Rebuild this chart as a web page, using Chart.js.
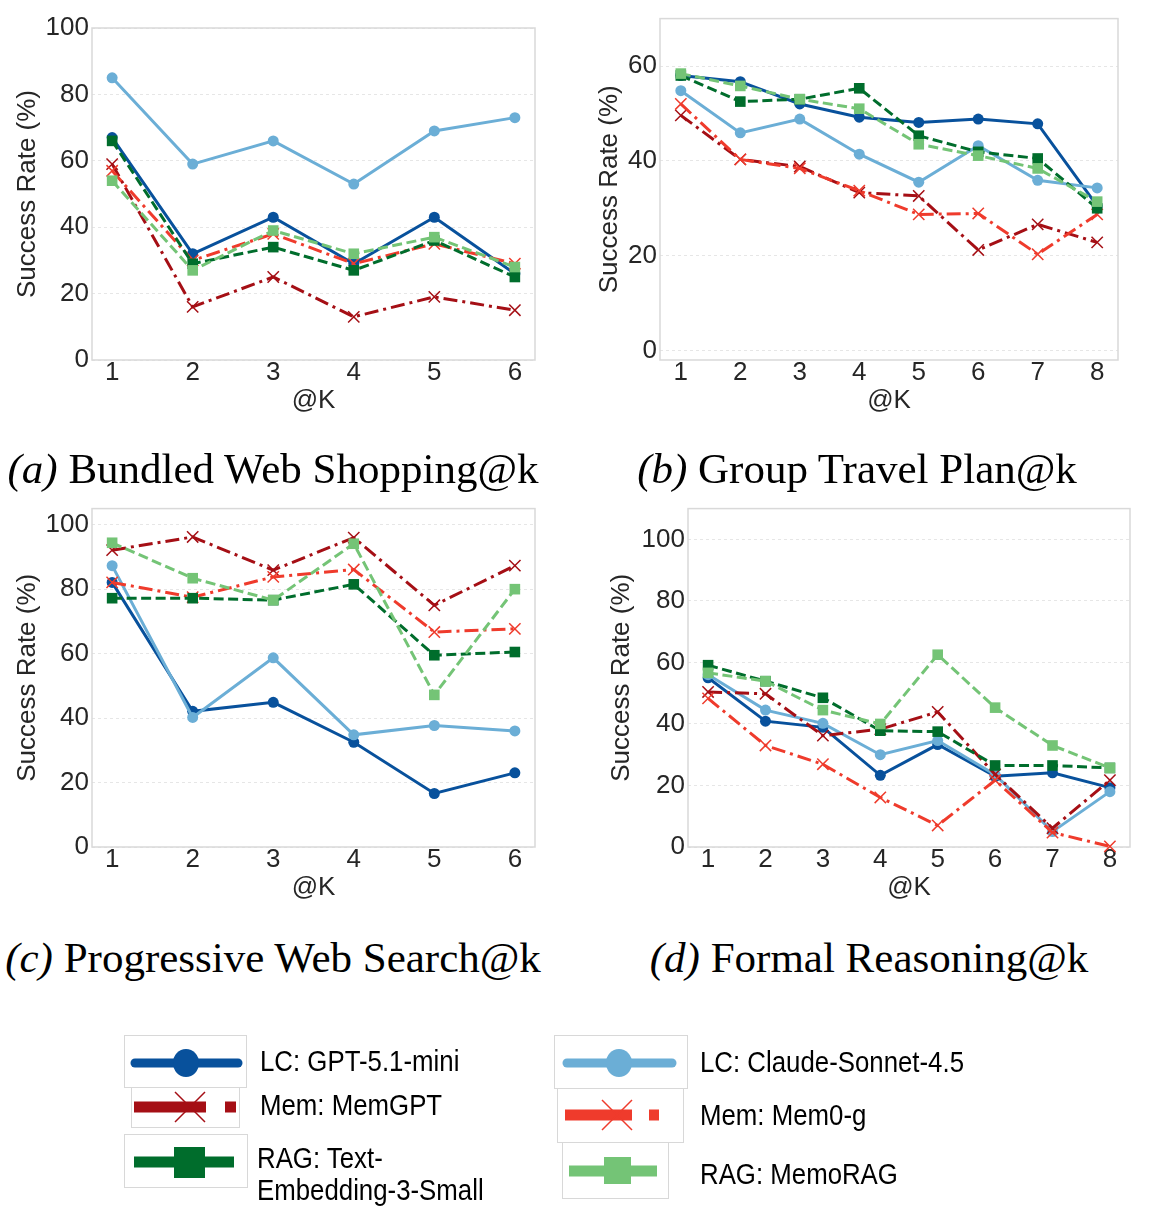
<!DOCTYPE html>
<html>
<head>
<meta charset="utf-8">
<script src="https://cdn.jsdelivr.net/npm/chart.js@4.4.1/dist/chart.umd.min.js"></script>
<style>
  body { margin: 0; background: #fff; width: 1156px; height: 1219px; position: relative; overflow: hidden; font-family: "Liberation Sans", Arial, sans-serif; }
  .panel { position: absolute; }
  .cap { position: absolute; font-family: "Liberation Serif", "Times New Roman", serif; font-size: 43px; white-space: nowrap; color: #000; transform: translate(-50%, -50%); line-height: 1; }
  .lg { position: absolute; font-family: "Liberation Sans", Arial, sans-serif; font-size: 29px; color: #000; white-space: nowrap; transform-origin: 0 50%; transform: translateY(-50%) scaleX(0.89); line-height: 1; }
  #legendArt { position: absolute; left: 0; top: 0; }
</style>
</head>
<body>

<div class="panel" style="left:0;top:0"><canvas id="chartA" width="545" height="420"></canvas></div>
<div class="panel" style="left:580px;top:0"><canvas id="chartB" width="548" height="420"></canvas></div>
<div class="panel" style="left:0;top:490px"><canvas id="chartC" width="545" height="417"></canvas></div>
<div class="panel" style="left:590px;top:490px"><canvas id="chartD" width="550" height="417"></canvas></div>

<div class="cap" style="left:273px;top:468px"><i>(a)</i> Bundled Web Shopping@k</div>
<div class="cap" style="left:857px;top:468px"><i>(b)</i> Group Travel Plan@k</div>
<div class="cap" style="left:273px;top:957px"><i>(c)</i> Progressive Web Search@k</div>
<div class="cap" style="left:869px;top:957px"><i>(d)</i> Formal Reasoning@k</div>

<canvas id="legendArt" width="1156" height="1219"></canvas>
<div id="legendText"></div>

<script>
// --- data ---
const kSix = [1, 2, 3, 4, 5, 6];
const kEight = [1, 2, 3, 4, 5, 6, 7, 8];
const yTicksFull = [0, 20, 40, 60, 80, 100];
const yTicksTravel = [0, 20, 40, 60];

const seriesNames = ["LC: GPT-5.1-mini", "LC: Claude-Sonnet-4.5", "Mem: MemGPT",
                     "Mem: Mem0-g", "RAG: Text-Embedding-3-Small", "RAG: MemoRAG"];

// (a) Bundled Web Shopping
const shopGpt      = [67, 32, 43, 29, 43, 26];
const shopClaude   = [85, 59, 66, 53, 69, 73];
const shopMemgpt   = [59, 16, 25, 13, 19, 15];
const shopMem0     = [57, 30, 38, 29, 35, 29];
const shopTextEmb  = [66, 29, 34, 27, 36, 25];
const shopMemoRag  = [54, 27, 39, 32, 37, 28];

// (b) Group Travel Plan
const travelGpt     = [58, 56.7, 52, 49.2, 48.1, 48.8, 47.8, 30.5];
const travelClaude  = [54.8, 45.9, 48.8, 41.4, 35.5, 43.2, 35.9, 34.3];
const travelMemgpt  = [49.6, 40.3, 38.8, 33.3, 32.6, 21.2, 26.6, 22.8];
const travelMem0    = [52, 40.3, 38.4, 33.7, 28.7, 28.9, 20.3, 28.7];
const travelTextEmb = [58, 52.5, 53, 55.3, 45.3, 41.9, 40.5, 30];
const travelMemoRag = [58.4, 55.8, 53, 51, 43.5, 41.1, 38.4, 31.4];

// (c) Progressive Web Search
const searchGpt     = [82.1, 42.1, 44.9, 32.5, 16.6, 23];
const searchClaude  = [87.3, 40.2, 58.7, 34.8, 37.7, 36];
const searchMemgpt  = [92.1, 96.2, 85.9, 96, 75, 87.3];
const searchMem0    = [82.1, 77.5, 83.8, 86.1, 66.7, 67.7];
const searchTextEmb = [77.2, 77.2, 76.6, 81.5, 59.5, 60.5];
const searchMemoRag = [94.4, 83.4, 76.6, 94.1, 47.2, 80];

// (d) Formal Reasoning
const reasonGpt     = [55, 40.9, 38.9, 23.3, 33.3, 23, 24.1, 19.3];
const reasonClaude  = [56, 44.5, 40.2, 30, 34.6, 23.5, 5, 18];
const reasonMemgpt  = [50.4, 49.8, 36.2, 38.3, 43.9, 23.6, 6.1, 21.7];
const reasonMem0    = [48.3, 33, 26.9, 16.1, 7, 21.7, 4.7, 0.2];
const reasonTextEmb = [59.1, 53.9, 48.5, 37.8, 37.5, 26.5, 26.5, 25.7];
const reasonMemoRag = [56.6, 53.9, 44.5, 40, 62.5, 45.3, 33, 25.7];

// --- styles (same order as seriesNames) ---
const seriesStyle = [
  { color: "#08519c", dash: [],            point: "circle",   radius: 5.5, pbw: 0 },
  { color: "#6baed6", dash: [],            point: "circle",   radius: 5.5, pbw: 0 },
  { color: "#a50f15", dash: [14, 5, 3, 5], point: "crossRot", radius: 8,   pbw: 1.5 },
  { color: "#ef3b2c", dash: [14, 5, 3, 5], point: "crossRot", radius: 8,   pbw: 1.5 },
  { color: "#006d2c", dash: [10, 4.5],     point: "rect",     radius: 7.5, pbw: 0 },
  { color: "#74c476", dash: [10, 4.5],     point: "rect",     radius: 7.5, pbw: 0 }
];

const inkColor = "#262626";
const axisFont = { family: "'Liberation Sans', Arial, sans-serif", size: 26 };

// box round the plot area
const framePlugin = {
  id: "frame",
  beforeDatasetsDraw(chart) {
    const { ctx, chartArea: a } = chart;
    ctx.save();
    ctx.strokeStyle = "#d9d9d9";
    ctx.lineWidth = 1.5;
    ctx.strokeRect(a.left, a.top, a.right - a.left, a.bottom - a.top);
    ctx.restore();
  }
};

function makePanel(canvasId, ks, seriesData, yMin, yMax, yTicks, box) {
  const n = ks.length;
  const datasets = seriesData.map((vals, i) => {
    const st = seriesStyle[i];
    return {
      label: seriesNames[i],
      data: ks.map((k, j) => ({ x: k, y: vals[j] })),
      borderColor: st.color,
      backgroundColor: st.color,
      borderWidth: 3,
      borderDash: st.dash,
      pointStyle: st.point,
      pointRadius: st.radius,
      pointBorderWidth: st.pbw,
      pointBackgroundColor: st.color,
      pointBorderColor: st.color,
      tension: 0,
      order: seriesData.length - i,
      clip: false
    };
  });

  return new Chart(document.getElementById(canvasId), {
    type: "line",
    data: { datasets: datasets },
    options: {
      responsive: false,
      animation: false,
      events: [],
      layout: { padding: { left: 0, top: box.top, right: box.right, bottom: 0 } },
      plugins: { legend: { display: false }, tooltip: { enabled: false } },
      scales: {
        x: {
          type: "linear",
          min: 1 - 0.05 * (n - 1),
          max: n + 0.05 * (n - 1),
          afterBuildTicks: s => { s.ticks = ks.map(v => ({ value: v })); },
          afterFit: s => { s.height = 60; },
          grid: { display: false, drawTicks: false },
          border: { display: false },
          ticks: { autoSkip: false, maxRotation: 0, padding: 0, color: inkColor,
                   font: Object.assign({ lineHeight: 1 }, axisFont) },
          title: { display: true, text: "@K", color: inkColor,
                   font: Object.assign({ lineHeight: 1 }, axisFont),
                   padding: { top: 0, bottom: 6 } }
        },
        y: {
          min: yMin,
          max: yMax,
          afterBuildTicks: s => { s.ticks = yTicks.map(v => ({ value: v })); },
          afterFit: s => { s.width = box.yWidth; },
          grid: { color: "#e6e6e6", lineWidth: 1, drawTicks: false },
          border: { display: false, dash: [3, 3] },
          ticks: { padding: 3, color: inkColor, font: axisFont },
          title: { display: true, text: "Success Rate (%)", color: inkColor,
                   font: Object.assign({ lineHeight: 1.2 }, axisFont),
                   padding: { top: box.titlePad, bottom: 0 } }
        }
      }
    },
    plugins: [framePlugin]
  });
}

makePanel("chartA", kSix,
  [shopGpt, shopClaude, shopMemgpt, shopMem0, shopTextEmb, shopMemoRag],
  0, 100, yTicksFull, { top: 28, right: 10, yWidth: 92, titlePad: 12 });

makePanel("chartB", kEight,
  [travelGpt, travelClaude, travelMemgpt, travelMem0, travelTextEmb, travelMemoRag],
  -2, 70, yTicksTravel, { top: 18, right: 10, yWidth: 80, titlePad: 14 });

makePanel("chartC", kSix,
  [searchGpt, searchClaude, searchMemgpt, searchMem0, searchTextEmb, searchMemoRag],
  0, 105, yTicksFull, { top: 16, right: 10, yWidth: 92, titlePad: 12 });

makePanel("chartD", kEight,
  [reasonGpt, reasonClaude, reasonMemgpt, reasonMem0, reasonTextEmb, reasonMemoRag],
  0, 110, yTicksFull, { top: 16, right: 10, yWidth: 98, titlePad: 16 });

// --- legend: pasted-sample look, boxes with line samples ---
const lg = document.getElementById("legendArt").getContext("2d");

function frameBox(x1, y1, x2, y2) {
  lg.save();
  lg.strokeStyle = "#d8d8d8";
  lg.lineWidth = 1;
  lg.strokeRect(x1 + 0.5, y1 + 0.5, x2 - x1, y2 - y1);
  lg.restore();
}
function circleSample(color, x1, x2, y, cx) {
  lg.save();
  lg.strokeStyle = color; lg.fillStyle = color;
  lg.lineWidth = 9; lg.lineCap = "round";
  lg.beginPath(); lg.moveTo(x1, y); lg.lineTo(x2, y); lg.stroke();
  lg.beginPath(); lg.ellipse(cx, y, 13, 14, 0, 0, Math.PI * 2); lg.fill();
  lg.restore();
}
function crossSample(color, x1, x2, y, cx, sq1, sq2) {
  lg.save();
  lg.fillStyle = color; lg.strokeStyle = color;
  lg.fillRect(x1, y - 5.5, x2 - x1, 11);
  lg.fillRect(sq1, y - 5.5, sq2 - sq1, 11);
  lg.lineWidth = 1.5;
  lg.beginPath();
  lg.moveTo(cx - 15, y - 15); lg.lineTo(cx + 15, y + 15);
  lg.moveTo(cx + 15, y - 15); lg.lineTo(cx - 15, y + 15);
  lg.stroke();
  lg.restore();
}
function squareSample(color, x1, x2, y, bx1, bx2, by1, by2) {
  lg.save();
  lg.fillStyle = color;
  lg.fillRect(x1, y - 5.5, x2 - x1, 11);
  lg.fillRect(bx1, by1, bx2 - bx1, by2 - by1);
  lg.restore();
}

frameBox(124, 1035, 246, 1087);
circleSample(seriesStyle[0].color, 135, 238, 1063, 186);
frameBox(131, 1087, 239, 1127);
crossSample(seriesStyle[2].color, 134, 206, 1107, 190, 225, 236);
frameBox(124, 1134, 247, 1187);
squareSample(seriesStyle[4].color, 134, 234, 1162, 174, 205, 1147, 1178);

frameBox(554, 1035, 687, 1088);
circleSample(seriesStyle[1].color, 567, 672, 1063, 619);
frameBox(557, 1088, 683, 1142);
crossSample(seriesStyle[3].color, 565, 632, 1115, 617, 649, 659);
frameBox(562, 1142, 668, 1198);
squareSample(seriesStyle[5].color, 569, 657, 1171, 604, 631, 1157, 1184);

const legendText = [
  { text: seriesNames[0], x: 260, y: 1061 },
  { text: seriesNames[2], x: 260, y: 1105 },
  { text: "RAG: Text-", x: 257, y: 1158 },
  { text: "Embedding-3-Small", x: 257, y: 1190 },
  { text: seriesNames[1], x: 700, y: 1062 },
  { text: seriesNames[3], x: 700, y: 1115 },
  { text: seriesNames[5], x: 700, y: 1174 }
];
const holder = document.getElementById("legendText");
legendText.forEach(t => {
  const d = document.createElement("div");
  d.className = "lg";
  d.style.left = t.x + "px";
  d.style.top = t.y + "px";
  d.textContent = t.text;
  holder.appendChild(d);
});
</script>
</body>
</html>
